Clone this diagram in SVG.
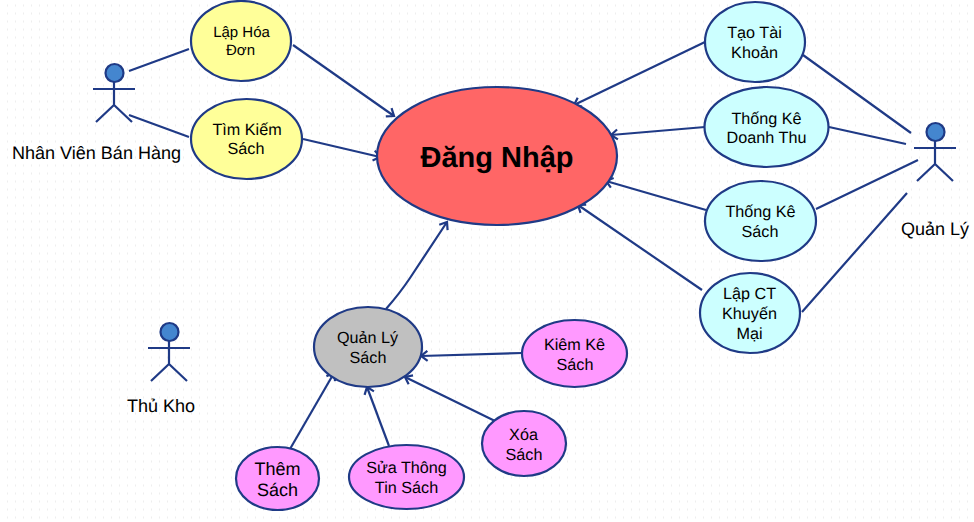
<svg xmlns="http://www.w3.org/2000/svg" width="974" height="522" viewBox="0 0 974 522">
<style>
text{font-family:"Liberation Sans",Arial,sans-serif;font-size:16.2px;fill:#000;text-anchor:middle;text-rendering:geometricPrecision}
.n{stroke:#1f3a86;stroke-width:2.200}
.l{fill:none;stroke:#1f3a86;stroke-width:2.200}
.a{fill:none;stroke:#1f3a86;stroke-width:2.200;marker-end:url(#arr)}
.head{fill:#4486cf;stroke:#1f3a86;stroke-width:2.200}
</style>
<defs>
<marker id="arr" markerUnits="userSpaceOnUse" markerWidth="14" markerHeight="14" refX="10" refY="7" orient="auto"><path d="M3.500 2 L10 7 L3.500 12" fill="none" stroke="#1f3a86" stroke-width="2.200"/></marker>
<pattern id="dots" width="8" height="8" patternUnits="userSpaceOnUse"><rect x="7" y="4.500" width="1" height="2" fill="#eeeeee"/></pattern>
<g id="actor"><circle class="head" cx="0.500" cy="10" r="9"/><path class="l" d="M0 19V42M-21 26H21M-18 59L0 42L18 59"/></g>
</defs>
<rect width="974" height="522" fill="#fff"/>
<rect width="974" height="522" fill="url(#dots)"/>
<g id="connectors">
<path class="l" d="M129 71L189 49M129 115L189 137M803 55L911 133M829 127L906 144M816 209L918 160M802 312L907 193"/>
<path class="a" d="M293 45L394 116"/>
<path class="a" d="M303 139L380 157"/>
<path class="a" d="M705 42L574 105"/>
<path class="a" d="M705 127L611 135"/>
<path class="a" d="M706 210L606 181"/>
<path class="a" d="M702 290L578 205"/>
<path class="a" d="M386 309Q400 293 410 278L447 222"/>
<path class="a" d="M522 353L421 356"/>
<path class="a" d="M495 421L405 377"/>
<path class="a" d="M389 446L367 387"/>
<path class="a" d="M290 449L334 373"/>
</g>
<g id="actor-nvbh"><use href="#actor" x="114" y="63"/><text x="96.500" y="159" style="font-size:18.050px">Nhân Viên Bán Hàng</text></g>
<g id="actor-ql"><use href="#actor" x="935" y="122"/><text x="935" y="235" style="font-size:18.050px">Quản Lý</text></g>
<g id="actor-tk"><use href="#actor" x="169" y="322"/><text x="161" y="412" style="font-size:18.050px">Thủ Kho</text></g>
<g id="dang-nhap"><ellipse class="n" cx="497" cy="156" rx="120" ry="69" fill="#ff6666"/><text x="497" y="167" style="font-size:29px;font-weight:bold">Đăng Nhập</text></g>
<g id="lap-hoa-don"><ellipse class="n" cx="241" cy="41" rx="50" ry="40" fill="#ffff99"/><text x="241.500" y="37" style="font-size:15px">Lập Hóa</text><text x="240.500" y="55" style="font-size:15px">Đơn</text></g>
<g id="tim-kiem"><ellipse class="n" cx="246.500" cy="139" rx="55.500" ry="40" fill="#ffff99"/><text x="247" y="135">Tìm Kiếm</text><text x="246" y="154">Sách</text></g>
<g id="tao-tk"><ellipse class="n" cx="755" cy="42" rx="50" ry="40" fill="#ccffff"/><text x="754.500" y="38">Tạo Tài</text><text x="754.500" y="58">Khoản</text></g>
<g id="tk-dt"><ellipse class="n" cx="766.500" cy="127" rx="62" ry="40" fill="#ccffff"/><text x="766.500" y="124">Thống Kê</text><text x="766.500" y="143">Doanh Thu</text></g>
<g id="tk-sach"><ellipse class="n" cx="760.500" cy="221" rx="55.500" ry="40" fill="#ccffff"/><text x="760.500" y="217">Thống Kê</text><text x="760" y="237">Sách</text></g>
<g id="lap-ct"><ellipse class="n" cx="750" cy="313" rx="50" ry="40" fill="#ccffff"/><text x="749.500" y="299">Lập CT</text><text x="749.500" y="319">Khuyến</text><text x="749.500" y="339">Mại</text></g>
<g id="ql-sach"><ellipse class="n" cx="368" cy="347" rx="54" ry="40" fill="#c0c0c0"/><text x="367.500" y="343">Quản Lý</text><text x="368" y="363">Sách</text></g>
<g id="kiem-ke"><ellipse class="n" cx="574.500" cy="353.500" rx="52.500" ry="33.500" fill="#ff99ff"/><text x="574.500" y="350">Kiêm Kê</text><text x="575" y="370">Sách</text></g>
<g id="xoa-sach"><ellipse class="n" cx="524" cy="443.500" rx="42" ry="32.500" fill="#ff99ff"/><text x="523.500" y="440">Xóa</text><text x="524" y="460">Sách</text></g>
<g id="sua-tt"><ellipse class="n" cx="406.500" cy="477" rx="57.500" ry="32" fill="#ff99ff"/><text x="406.500" y="473">Sửa Thông</text><text x="406.500" y="493">Tin Sách</text></g>
<g id="them-sach"><ellipse class="n" cx="277.500" cy="478.500" rx="41.500" ry="31.500" fill="#ff99ff"/><text x="277.500" y="475" style="font-size:18px">Thêm</text><text x="277.500" y="496" style="font-size:18px">Sách</text></g>
</svg>
